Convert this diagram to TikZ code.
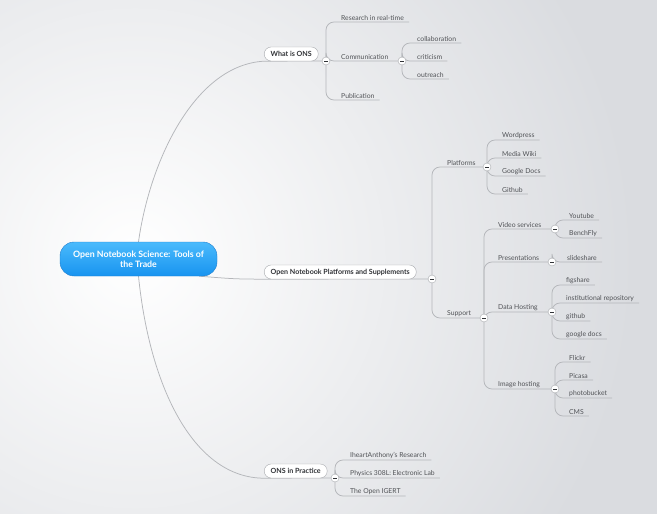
\documentclass[tikz,border=0pt]{standalone}
\usepackage{fontspec}
\setmainfont{Lato}
\usepackage{tikz}
\usetikzlibrary{positioning,backgrounds}
\definecolor{bgc}{RGB}{218,220,224}
\definecolor{roottop}{RGB}{74,186,252}
\definecolor{rootbot}{RGB}{24,148,240}
\definecolor{rootline}{RGB}{30,125,205}
\definecolor{boxline}{RGB}{168,170,174}
\definecolor{linkc}{RGB}{180,182,186}
\definecolor{leaftext}{RGB}{80,82,86}
\definecolor{topictext}{RGB}{48,50,54}

\begin{document}
\begin{tikzpicture}[
    % GLOBAL CFG
    x=1pt, y=-1pt,
    font=\fontsize{6.8}{8}\selectfont,
    % Styles
    root/.style={% For the central topic
        rectangle,
        rounded corners=14pt,
        draw=rootline,
        top color=roottop,
        bottom color=rootbot,
        minimum width=157pt,
        minimum height=34pt,
        align=center,
        text=white,
        font=\fontsize{8.8}{10}\selectfont\bfseries,
        },
    topic/.style={% For the main branches
        rectangle,
        rounded corners=7pt,
        draw=boxline,
        fill=white,
        minimum height=14pt,
        inner xsep=6.5pt,
        anchor=west,
        text=topictext,
        font=\fontsize{7.1}{8}\selectfont\bfseries,
        },
    leaf/.style={% For the texts sitting on a line
        anchor=south west,
        inner xsep=0pt,
        inner ysep=1.5pt,
        text=leaftext,
        },
    toggle/.style={% For the small collapse buttons
        circle,
        draw=boxline,
        fill=white,
        minimum size=8pt,
        inner sep=0pt,
        path picture={\draw[topictext, line width=.7pt]
            ([xshift=-2pt]path picture bounding box.center) --
            ([xshift=2pt]path picture bounding box.center);},
        },
    link/.style={% Curves out of the central topic
        draw=linkc,
        line width=.75pt,
        },
    branch/.style={% Lines with rounded corners
        link,
        rounded corners=8pt,
        },
    ]

    % Draw the background
    \useasboundingbox (0,0) rectangle (657,514);
    \begin{scope}[on background layer]
        \fill[bgc] (0,0) rectangle (657,514);
        \shade[inner color=white, outer color=bgc] (135,258) circle[radius=500pt];
    \end{scope}

    % Draw the central topic
    \node [root] (root) at (138.5,259) {Open Notebook Science: Tools of\\the Trade};

    % What is ONS
    \node [topic] (whatis) at (264,54) {What is ONS};
    \node [toggle] (t-whatis) at (326,61) {};
    \node [leaf] (research) at (341,22) {Research in real-time};
    \node [leaf] (comm) at (341,61) {Communication};
    \node [toggle] (t-comm) at (402,61) {};
    \node [leaf] (pub) at (341,100) {Publication};
    \node [leaf] (collab) at (417,43) {collaboration};
    \node [leaf] (critic) at (417,61) {criticism};
    \node [leaf] (outreach) at (417,79) {outreach};

    % Open Notebook Platforms and Supplements
    \node [topic] (notebook) at (264,272) {Open Notebook Platforms and Supplements};
    \node [toggle] (t-notebook) at (432,279) {};
    \node [leaf] (platf) at (447,167) {Platforms};
    \node [toggle] (t-platf) at (487,167) {};
    \node [leaf] (wordpress) at (502,140) {Wordpress};
    \node [leaf] (mediawiki) at (502,158) {Media Wiki};
    \node [leaf] (gdocs) at (502,176) {Google Docs};
    \node [leaf] (github) at (502,194) {Github};
    \node [leaf] (support) at (447,318) {Support};
    \node [toggle] (t-support) at (484,318) {};
    \node [leaf] (video) at (498,229) {Video services};
    \node [toggle] (t-video) at (555,229) {};
    \node [leaf] (youtube) at (569,220) {Youtube};
    \node [leaf] (benchfly) at (569,238) {BenchFly};
    \node [leaf] (pres) at (498,262) {Presentations};
    \node [toggle] (t-pres) at (552,262) {};
    \node [leaf] (slideshare) at (567,262) {slideshare};
    \node [leaf] (data) at (498,312) {Data Hosting};
    \node [toggle] (t-data) at (552,312) {};
    \node [leaf] (figshare) at (566,285) {figshare};
    \node [leaf] (repo) at (566,303) {institutional repository};
    \node [leaf] (github2) at (566,321) {github};
    \node [leaf] (gdocs2) at (566,339) {google docs};
    \node [leaf] (image) at (498,389) {Image hosting};
    \node [toggle] (t-image) at (555,389) {};
    \node [leaf] (flickr) at (569,362) {Flickr};
    \node [leaf] (picasa) at (569,380) {Picasa};
    \node [leaf] (photobucket) at (569,398) {photobucket};
    \node [leaf] (cms) at (569,416) {CMS};

    % ONS in Practice
    \node [topic] (practice) at (264,471) {ONS in Practice};
    \node [toggle] (t-practice) at (335,478) {};
    \node [leaf] (iheart) at (350,460) {IheartAnthony's Research};
    \node [leaf] (physics) at (350,478) {Physics 308L: Electronic Lab};
    \node [leaf] (igert) at (350,496) {The Open IGERT};

    % Start connecting all, under the nodes
    \begin{scope}[on background layer]
    % Out of the central topic
    \draw [link] (root.north) .. controls (150,160) and (195,65) .. (whatis.south west) -- (t-whatis);
    \draw [link] ([xshift=-18pt]root.south east) .. controls (235,279) .. (notebook.south west) -- (t-notebook);
    \draw [link] (root.south) .. controls (150,390) and (195,478) .. (practice.south west) -- (t-practice);

    % What is ONS
    \draw [branch] (t-whatis) |- ([xshift=5pt]research.south east);
    \draw [branch] (t-whatis) |- (t-comm);
    \draw [branch] (t-whatis) |- ([xshift=5pt]pub.south east);
    \draw [branch] (t-comm) |- ([xshift=5pt]collab.south east);
    \draw [branch] (t-comm) |- ([xshift=5pt]critic.south east);
    \draw [branch] (t-comm) |- ([xshift=5pt]outreach.south east);

    % Platforms
    \draw [branch] (t-notebook) |- (t-platf);
    \draw [branch] (t-notebook) |- (t-support);
    \draw [branch] (t-platf) |- ([xshift=5pt]wordpress.south east);
    \draw [branch] (t-platf) |- ([xshift=5pt]mediawiki.south east);
    \draw [branch] (t-platf) |- ([xshift=5pt]gdocs.south east);
    \draw [branch] (t-platf) |- ([xshift=5pt]github.south east);

    % Support
    \draw [branch] (t-support) |- (t-video);
    \draw [branch] (t-support) |- (t-pres);
    \draw [branch] (t-support) |- (t-data);
    \draw [branch] (t-support) |- (t-image);
    \draw [branch] (t-video) |- ([xshift=5pt]youtube.south east);
    \draw [branch] (t-video) |- ([xshift=5pt]benchfly.south east);
    \draw [branch] (t-pres) |- ([xshift=5pt]slideshare.south east);
    \draw [branch] (t-data) |- ([xshift=5pt]figshare.south east);
    \draw [branch] (t-data) |- ([xshift=5pt]repo.south east);
    \draw [branch] (t-data) |- ([xshift=5pt]github2.south east);
    \draw [branch] (t-data) |- ([xshift=5pt]gdocs2.south east);
    \draw [branch] (t-image) |- ([xshift=5pt]flickr.south east);
    \draw [branch] (t-image) |- ([xshift=5pt]picasa.south east);
    \draw [branch] (t-image) |- ([xshift=5pt]photobucket.south east);
    \draw [branch] (t-image) |- ([xshift=5pt]cms.south east);

    % ONS in Practice
    \draw [branch] (t-practice) |- ([xshift=5pt]iheart.south east);
    \draw [branch] (t-practice) |- ([xshift=5pt]physics.south east);
    \draw [branch] (t-practice) |- ([xshift=5pt]igert.south east);
    \end{scope}

\end{tikzpicture}
\end{document}
